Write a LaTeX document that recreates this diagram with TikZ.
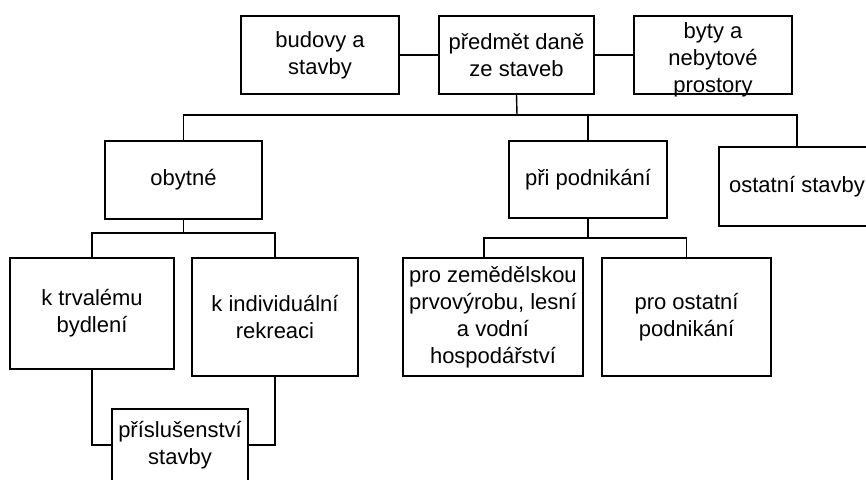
\documentclass[tikz,border=0pt]{standalone}
\usepackage{fontspec}
\setmainfont{Liberation Sans}
\usetikzlibrary{positioning}

\begin{document}
\begin{tikzpicture}[x = 1pt, y = -1pt, line width = 1.4pt,
                    box/.style = {draw = black, rectangle, inner sep = 0pt, align = center, font = \fontsize{22}{27}\selectfont},
                    joint/.style = {draw = black}]
    \useasboundingbox (0, 0) rectangle (866, 479);
    % top row
    \node[box, minimum width = 158, minimum height = 78] (budovy) at (320, 55) {budovy a\\stavby};
    \node[box, minimum width = 155, minimum height = 78] (predmet) at (516.5, 55) {předmět daně\\ze staveb};
    \node[box, minimum width = 158, minimum height = 78, text height = 75pt, text depth = 0pt] (byty) at (713, 55) {byty a\\nebytové\\prostory};
    % second row
    \node[box, minimum width = 157, minimum height = 78] (obytne) at (183.5, 180) {obytné};
    \node[box, minimum width = 158, minimum height = 77] (podnik) at (588, 179.5) {při podnikání};
    \node[box, minimum width = 156, minimum height = 79] (ostatni) at (797, 186.5) {ostatní stavby};
    % third row
    \node[box, minimum width = 164, minimum height = 111] (trvale) at (92, 313.5) {k trvalému\\bydlení};
    \node[box, minimum width = 166, minimum height = 118] (rekreace) at (275, 317) {k individuální\\rekreaci};
    \node[box, minimum width = 180, minimum height = 118] (zemed) at (493, 317) {pro zemědělskou\\prvovýrobu, lesní\\a vodní\\hospodářství};
    \node[box, minimum width = 169, minimum height = 118] (ostpodnik) at (686.5, 317) {pro ostatní\\podnikání};
    \node[box, minimum width = 136, minimum height = 72] (prisl) at (180, 445) {příslušenství\\stavby};
    % joints
    \coordinate (topbus) at (517, 115);
    \coordinate (obus) at (183.5, 233);
    \coordinate (pbus) at (588, 238);
    \draw[joint] (budovy.east)--(predmet.west);
    \draw[joint] (predmet.east)--(byty.west);
    \draw[joint] (predmet.south)--(topbus);
    \draw[joint] (obytne.north) |- (topbus) -| (ostatni.north);
    \draw[joint] (podnik.north)--(podnik.north |- topbus);
    \draw[joint] (obytne.south)--(obus);
    \draw[joint] (trvale.north) |- (obus) -| (rekreace.north);
    \draw[joint] (podnik.south)--(pbus);
    \draw[joint] ([xshift = -9] zemed.north) |- (pbus) -| (ostpodnik.north);
    \draw[joint] (trvale.south) |- (prisl.west);
    \draw[joint] (rekreace.south) |- (prisl.east);
\end{tikzpicture}
\end{document}
